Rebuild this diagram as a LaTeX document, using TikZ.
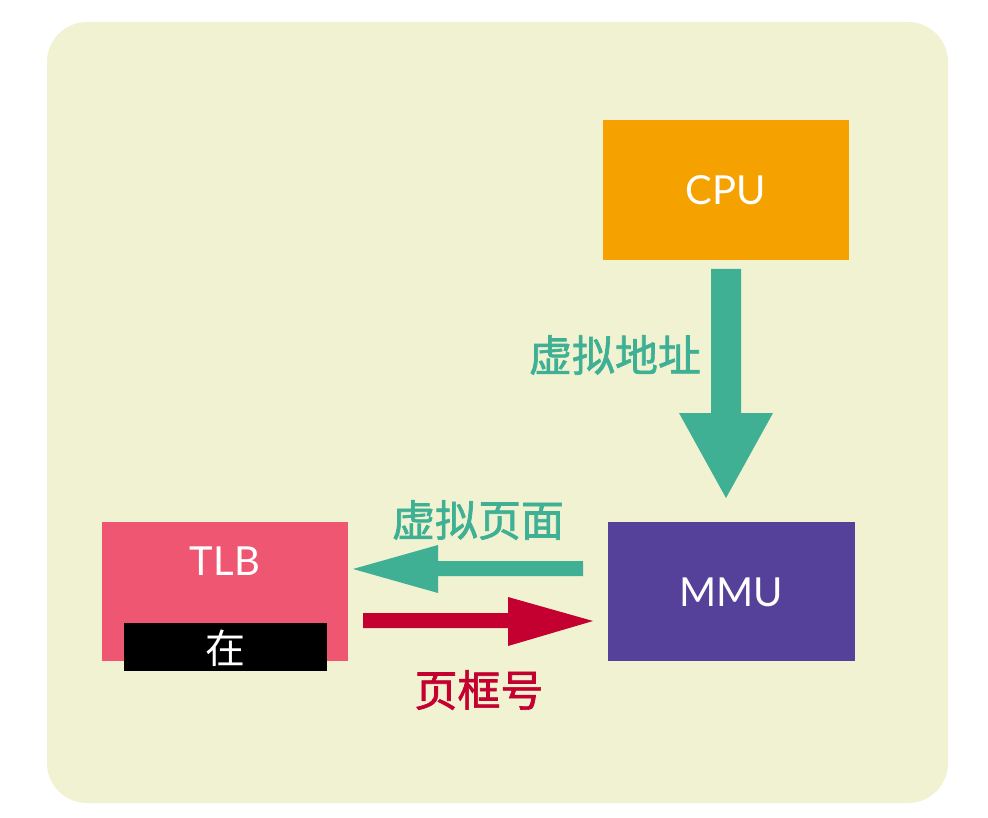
\documentclass[tikz,border=0pt]{standalone}
\usepackage{fontspec}
\setmainfont{Lato}
\newfontfamily\cjk{Noto Sans CJK SC}
\newfontfamily\cjkm[UprightFeatures={FakeBold=1.6}]{Noto Sans CJK SC}
\definecolor{bgc}{HTML}{F0F2D2}
\definecolor{cpuc}{HTML}{F5A100}
\definecolor{mmuc}{HTML}{55419A}
\definecolor{tlbc}{HTML}{EE5672}
\definecolor{grn}{HTML}{3FB094}
\definecolor{redc}{HTML}{C3002F}
\tikzset{
  boxtext/.style={text=white, font=\fontsize{40}{44}\selectfont},
  lbl/.style={text=#1, font=\cjkm\fontsize{43}{46}\selectfont, inner sep=0pt},
}
\begin{document}
\begin{tikzpicture}[x=1pt,y=-1pt]
\useasboundingbox (0,0) rectangle (988,818);
\fill[white] (0,0) rectangle (988,818);
\fill[bgc, rounded corners=40pt] (47,22) rectangle (948,803);
% boxes
\fill[cpuc] (603,120) rectangle (849,260);
\node[boxtext] (cpu) at (726,190) {CPU};
\fill[mmuc] (608,522) rectangle (855,661);
\node[boxtext] (mmu) at (731,592) {MMU};
\fill[tlbc] (102,522) rectangle (348,661);
\node[boxtext] (tlb) at (225,561) {TLB};
\fill[black] (124,623) rectangle (327,671);
\node[text=white, font=\cjk\fontsize{40}{44}\selectfont] (zai) at (225,648) {在};
% down arrow
\fill[grn] (711,269) -- (741,269) -- (741,413) -- (773,413) -- (726,498) -- (679,413) -- (711,413) -- cycle;
\node[lbl=grn] (va) at (615,355) {虚拟地址};
% left arrow
\fill[grn] (583,561) -- (583,576) -- (438,576) -- (438,593) -- (353,569) -- (438,545) -- (438,561) -- cycle;
\node[lbl=grn] (vp) at (478,520) {虚拟页面};
% right arrow
\fill[redc] (363,613) -- (508,613) -- (508,597) -- (593,621) -- (508,646) -- (508,628) -- (363,628) -- cycle;
\node[lbl=redc] (pf) at (479,690) {页框号};
\end{tikzpicture}
\end{document}
